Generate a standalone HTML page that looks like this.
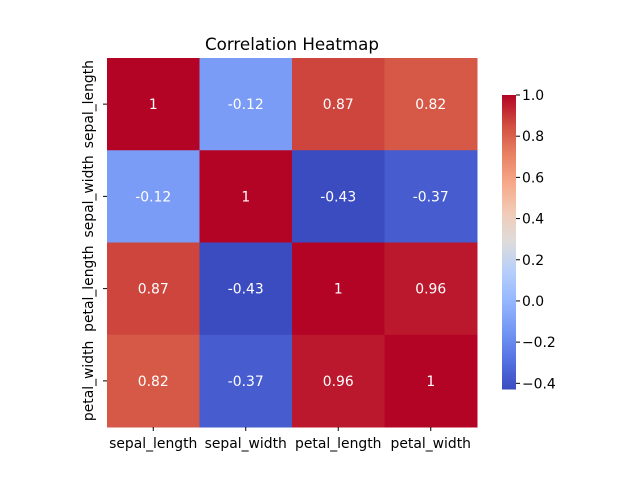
<!DOCTYPE html>
<html><head><meta charset="utf-8"><style>
body{margin:0;background:#fff;}
svg text{font-family:"DejaVu Sans","Liberation Sans",sans-serif;}
</style></head><body>
<svg id="chart" width="640" height="480" xmlns="http://www.w3.org/2000/svg">
<defs><linearGradient id="cbg" x1="0" y1="1" x2="0" y2="0"></linearGradient></defs>
<text x="292" y="50" font-size="16.7" text-anchor="middle">Correlation Heatmap</text>
<g id="cells"></g><g id="xlabels"></g><g id="ylabels"></g><g id="cbar"></g>
</svg>
<script>
const labels=["sepal_length","sepal_width","petal_length","petal_width"];
const matrix=[[1,-0.12,0.87,0.82],[-0.12,1,-0.43,-0.37],[0.87,-0.43,1,0.96],[0.82,-0.37,0.96,1]];
const valueText=[["1","-0.12","0.87","0.82"],["-0.12","1","-0.43","-0.37"],["0.87","-0.43","1","0.96"],["0.82","-0.37","0.96","1"]];
const cbTicks=[1.0,0.8,0.6,0.4,0.2,0.0,-0.2,-0.4];
const vmin=-0.43,vmax=1;
const NS="http://www.w3.org/2000/svg";
const stops=[[59,76,192],[85,114,227],[116,151,244],[149,183,254],[182,206,250],[221,220,220],[241,203,183],[246,169,137],[232,128,99],[208,76,63],[180,4,38]];
function cmap(t){t=Math.max(0,Math.min(1,t));const p=t*10,i=Math.min(9,Math.floor(p)),f=p-i;const a=stops[i],b=stops[i+1];return `rgb(${a.map((v,k)=>Math.round(v+(b[k]-v)*f)).join(',')})`;}
const x0=107,y0=58,W=370,H=369,n=labels.length,cw=W/n,ch=H/n;
const xs=i=>x0+i*cw, ys=i=>y0+i*ch;
function mk(tag,attrs,parent){const e=document.createElementNS(NS,tag);for(const k in attrs)e.setAttribute(k,attrs[k]);parent.appendChild(e);return e;}
const cells=document.getElementById('cells');
matrix.forEach((row,r)=>row.forEach((v,c)=>{
 const rect=mk('rect',{x:xs(c),y:ys(r),width:cw+0.5,height:ch+0.5,fill:cmap((v-vmin)/(vmax-vmin))},cells);
 
 
 const t=mk('text',{x:xs(c)+cw/2,y:ys(r)+ch/2+5,'font-size':13.9,fill:'#fff','text-anchor':'middle'},cells);
 t.textContent=valueText[r][c];
 
 
}));
const xl=document.getElementById('xlabels'),yl=document.getElementById('ylabels');
labels.forEach((l,i)=>{
 mk('line',{x1:xs(i)+cw/2,x2:xs(i)+cw/2,y1:y0+H,y2:y0+H+4,stroke:'#000'},xl);
 const t=mk('text',{x:xs(i)+cw/2,y:y0+H+21,'font-size':13.9,'text-anchor':'middle'},xl);
 t.textContent=l;
 
 
 mk('line',{x1:x0-4,x2:x0,y1:ys(i)+ch/2,y2:ys(i)+ch/2,stroke:'#000'},yl);
 const cy=ys(i)+ch/2;
 const u=mk('text',{x:x0-14,y:cy,'font-size':13.9,'text-anchor':'middle',transform:`rotate(-90 ${x0-14} ${cy})`},yl);
 u.textContent=l;
 
 
});
const g=document.getElementById('cbg');
for(let i=0;i<=10;i++){mk('stop',{offset:i/10,'stop-color':cmap(i/10)},g);}
const cb=document.getElementById('cbar');
const cbx=502,cbw=14,cbTop=95,cbBot=389.5;
const cy=v=>cbBot-(v-vmin)/(vmax-vmin)*(cbBot-cbTop);
const bar=mk('rect',{x:cbx,y:cbTop,width:cbw,height:cbBot-cbTop,fill:'url(#cbg)'},cb);


cbTicks.forEach(v=>{
 mk('line',{x1:cbx+cbw,x2:cbx+cbw+4,y1:cy(v),y2:cy(v),stroke:'#000'},cb);
 const t=mk('text',{x:cbx+cbw+6,y:cy(v)+5,'font-size':13.9},cb);
 t.textContent=v.toFixed(1).replace('-','\u2212');
 
 
});
</script>
</body></html>
